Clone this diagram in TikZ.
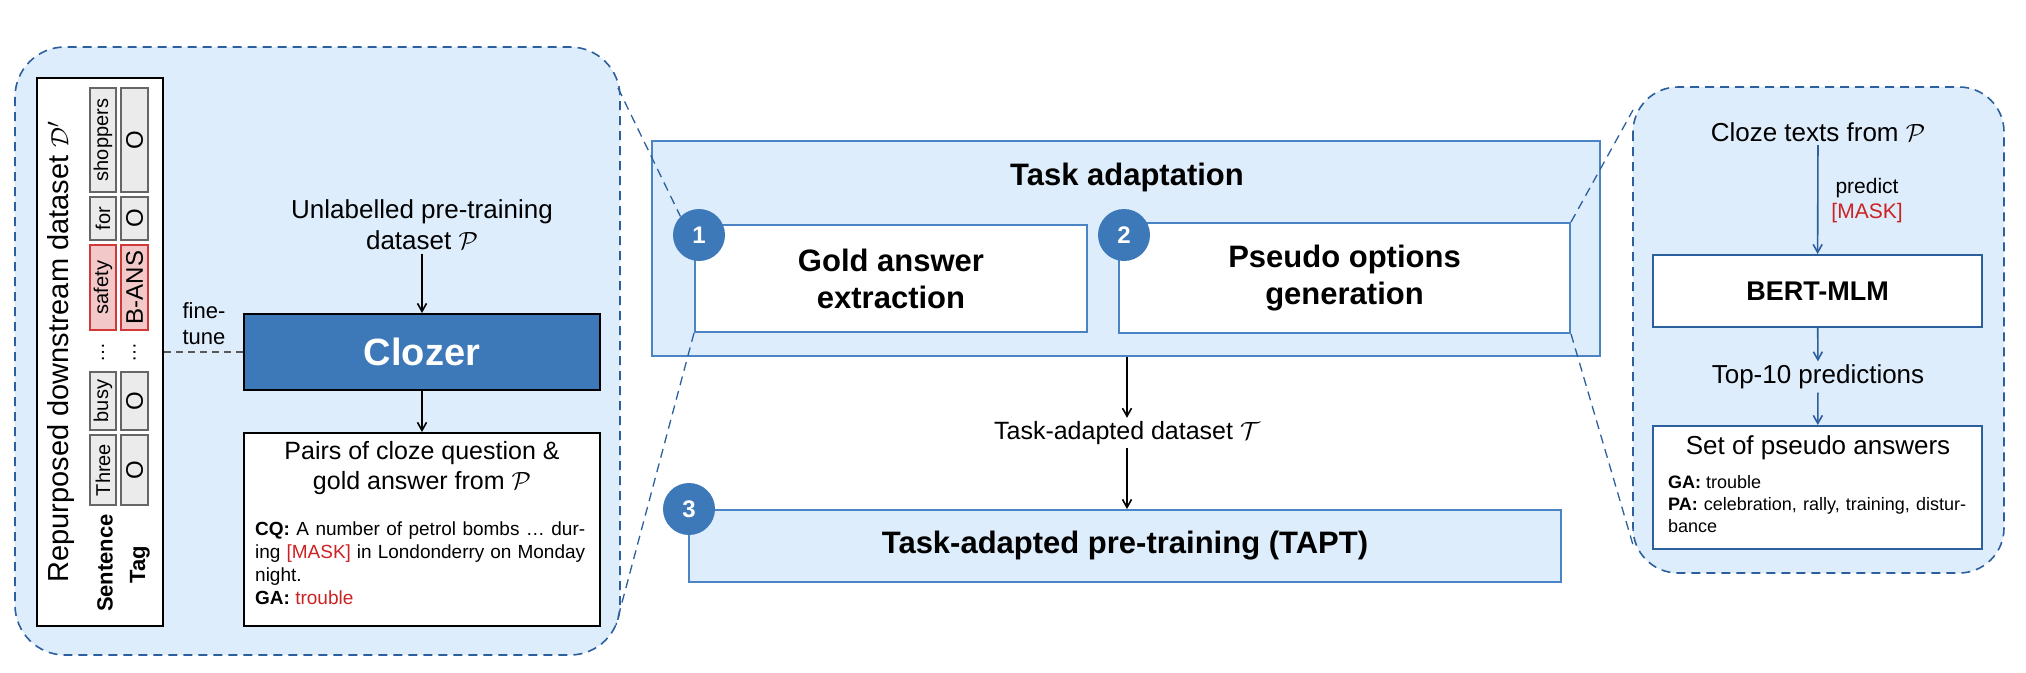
\documentclass[tikz,border=0pt]{standalone}
\usepackage{fontspec}
\setmainfont{Liberation Sans}
\usetikzlibrary{arrows.meta}
\definecolor{lblue}{HTML}{DEEDFC}
\definecolor{dblue}{HTML}{2C5F9E}
\definecolor{mblue}{HTML}{3D78B8}
\definecolor{bord}{HTML}{4A84C4}
\definecolor{myred}{HTML}{CC2222}
\newcommand{\fs}[1]{\fontsize{#1}{\the\numexpr#1*6/5\relax}\selectfont}
\tikzset{
 zdash/.style={draw=dblue,line width=1.6pt,dash pattern=on 9pt off 6pt},
 blk/.style={draw=black,line width=2pt},
 arr/.style={-{Straight Barb[length=8pt,width=9pt]},line width=1.6pt},
 barr/.style={arr,draw=dblue},
 tok/.style={draw=black!60,fill=black!8,line width=1.3pt,inner sep=0pt,rotate=90,font=\fs{20}},
 rtok/.style={tok,draw=myred!90,fill=myred!25},
 num/.style={circle,fill=mblue,minimum size=52pt,inner sep=0pt,text=white,font=\fs{24}\bfseries},
 wbox/.style={draw=bord,fill=white,line width=2pt},
}
\begin{document}
\begin{tikzpicture}[x=1pt,y=-1pt]
\useasboundingbox (0,0) rectangle (2026,672);
% left panel
\draw[zdash,fill=lblue,rounded corners=50pt] (15,47) rectangle (620,655);
\node[blk,fill=white,minimum width=126pt,minimum height=548pt,inner sep=0pt] (ds) at (100,352) {};
\node[rotate=90,font=\fs{29}] (dst) at (61,352) {Repurposed downstream dataset $\mathcal{D}'$};
\foreach \n/\a/\b/\t/\g/\s in {s1/88/192/shoppers/O/tok, s2/197/240/for/O/tok, s3/245/330/safety/B-ANS/rtok, s5/372/430/busy/O/tok, s6/435/505/Three/O/tok}{
 \pgfmathsetmacro{\c}{(\a+\b)/2}\pgfmathsetmacro{\h}{\b-\a}
 \node[\s,minimum width=\h pt,minimum height=26pt] (\n a) at (103,\c) {\t};
 \node[\s,minimum width=\h pt,minimum height=27pt,font=\fs{24}] (\n b) at (134.5,\c) {\g};
}
\node[rotate=90,font=\fs{20}] (dotsa) at (103,352) {\dots};
\node[rotate=90,font=\fs{20}] (dotsb) at (134.5,352) {\dots};
\node[rotate=90,font=\fs{22}\bfseries] (sen) at (105,563) {Sentence};
\node[rotate=90,font=\fs{22}\bfseries] (tag) at (140,565) {Tag};
\node[font=\fs{26},align=center] (unl) at (422,225) {Unlabelled pre-training\\dataset $\mathcal{P}$};
\node[blk,fill=mblue,minimum width=356pt,minimum height=76pt,text=white,font=\fs{38}\bfseries] (clz) at (422,352) {Clozer};
\node[font=\fs{22},align=center] (ft) at (204,324) {fine-\\tune};
\node[blk,fill=white,minimum width=356pt,minimum height=193pt] (pairs) at (422,529.5) {};
\node[font=\fs{25},align=center,anchor=north] (pt) at (422,438) {Pairs of cloze question \&\\gold answer from $\mathcal{P}$};
\node[font=\fs{19},anchor=north west,text width=330pt,align=justify,inner sep=0pt] (cq) at (255,522) {\setlength{\baselineskip}{24pt}\textbf{CQ:} A number of petrol bombs \dots\ during \textcolor{myred}{[MASK]} in Londonderry on Monday night.\\\textbf{GA:} \textcolor{myred}{trouble}};
\draw[arr] (unl) -- (clz);
\draw[arr] (clz) -- (pairs);
\draw[line width=1.6pt,draw=black!65,dash pattern=on 7pt off 5pt] (ds.east |- clz) -- (clz.west);
% middle
\node[draw=bord,fill=lblue,line width=2pt,minimum width=948pt,minimum height=215pt] (ta) at (1126,248.5) {};
\node[font=\fs{31}\bfseries] (tat) at (1127,177) {Task adaptation};
\node[wbox,minimum width=392pt,minimum height=107pt,font=\fs{31}\bfseries,align=center] (g) at (891,278.5) {Gold answer\\extraction};
\node[wbox,minimum width=451pt,minimum height=110pt,font=\fs{31}\bfseries,align=center] (p) at (1344.5,278) {Pseudo options\\generation};
\node[num] (n1) at (699,235) {1};
\node[num] (n2) at (1124,235) {2};
\node[font=\fs{25}] (tad) at (1127,433) {Task-adapted dataset $\mathcal{T}$};
\node[draw=bord,fill=lblue,line width=2pt,minimum width=872pt,minimum height=72pt,font=\fs{31}\bfseries] (tapt) at (1125,546) {Task-adapted pre-training (TAPT)};
\node[num] (n3) at (689,509) {3};
\draw[arr] (ta.south -| tad) -- (tad);
\draw[arr] (tad) -- (tapt.north -| tad);
% right
\draw[zdash,fill=lblue,rounded corners=45pt] (1633,87) rectangle (2004,573);
\node[font=\fs{26}] (ct) at (1818,132) {Cloze texts from $\mathcal{P}$};
\node[wbox,draw=dblue,minimum width=329pt,minimum height=72pt,font=\fs{27}\bfseries] (bert) at (1817.5,291) {BERT-MLM};
\node[font=\fs{21},align=center] (pr) at (1867,201) {predict\\\textcolor{myred}{[MASK]}};
\node[font=\fs{26}] (top) at (1818,377) {Top-10 predictions};
\node[wbox,draw=dblue,minimum width=329pt,minimum height=123pt] (set) at (1817.5,487.5) {};
\node[font=\fs{26},anchor=north] (sett) at (1818,432) {Set of pseudo answers};
\node[font=\fs{18},anchor=north west,text width=298pt,align=justify,inner sep=0pt] (ga) at (1668,475) {\setlength{\baselineskip}{23pt}\textbf{GA:} trouble\\\textbf{PA:} celebration, rally, training, disturbance};
\draw[barr] (ct) -- (bert);
\draw[barr] (bert) -- (top);
\draw[barr] (top) -- (set);
% zoom lines
\coordinate (l1) at (618,88);
\coordinate (l2) at (616,625);
\coordinate (r1) at (1633,110);
\coordinate (r2) at (1633,545);
\draw[zdash,line width=1.3pt] (l1) -- (n1.north west);
\draw[zdash,line width=1.3pt] (g.south west) -- (l2);
\draw[zdash,line width=1.3pt] (p.north east) -- (r1);
\draw[zdash,line width=1.3pt] (p.south east) -- (r2);
\end{tikzpicture}
\end{document}
